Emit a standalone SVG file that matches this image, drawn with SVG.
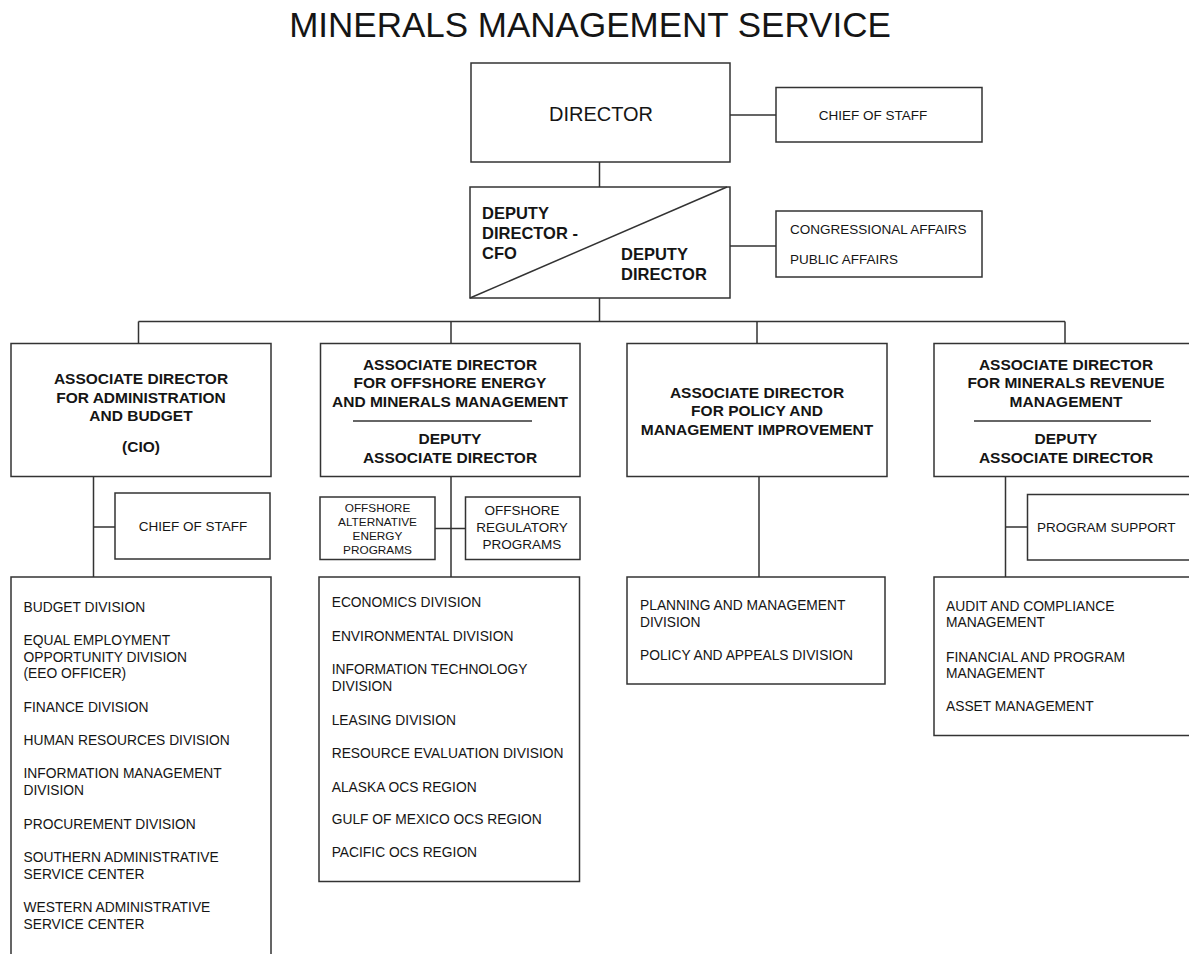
<svg xmlns="http://www.w3.org/2000/svg" width="1189" height="954" viewBox="0 0 1189 954">
<style>
.box{fill:#fff;stroke:#333;stroke-width:1.5}
.ln{stroke:#333;stroke-width:1.5;fill:none}
text{font-family:"Liberation Sans",Arial,sans-serif;fill:#151515}
.h{font-weight:bold;font-size:15.5px;text-anchor:middle}
.d{font-weight:bold;font-size:16.5px}
.r{font-size:13.5px}
.rc{font-size:13.5px;text-anchor:middle}
.l{font-size:13.8px}
.s{font-size:11.8px;text-anchor:middle}
</style>
<rect width="1189" height="954" fill="#fff"/>
<text x="590" y="37" font-size="35" text-anchor="middle">MINERALS MANAGEMENT SERVICE</text>

<g id="connectors">
<path class="ln" d="M730 115H776M599.5 162V187M730 246H776M599.5 298V321.5M138.5 321.5H1065M138.5 321.5V343.5M451 321.5V343.5M757 321.5V343.5M1065 321.5V343.5"/>
<path class="ln" d="M93.5 476.5V577M93.5 527H115"/>
<path class="ln" d="M451 476.5V577M435 528.5H465.5"/>
<path class="ln" d="M759 476.5V577"/>
<path class="ln" d="M1005.5 476.5V577M1005.5 527H1027.5"/>
</g>

<g id="director">
<rect class="box" x="471" y="63" width="259" height="99"/>
<text x="601" y="121" font-size="20" text-anchor="middle">DIRECTOR</text>
</g>
<g id="chief-of-staff">
<rect class="box" x="776" y="87.5" width="206" height="54.5"/>
<text class="rc" x="873" y="119.5">CHIEF OF STAFF</text>
</g>
<g id="deputy">
<rect class="box" x="470" y="187" width="260" height="111"/>
<line class="ln" x1="470" y1="298" x2="727" y2="187"/>
<text class="d" x="482" y="218.5">DEPUTY</text>
<text class="d" x="482" y="238.5">DIRECTOR -</text>
<text class="d" x="482" y="258.5">CFO</text>
<text class="d" x="621" y="260">DEPUTY</text>
<text class="d" x="621" y="280">DIRECTOR</text>
</g>
<g id="affairs">
<rect class="box" x="776" y="211" width="206" height="66"/>
<text class="r" x="790" y="233.5">CONGRESSIONAL AFFAIRS</text>
<text class="r" x="790" y="263.5">PUBLIC AFFAIRS</text>
</g>

<g id="ad-admin">
<rect class="box" x="11" y="343.5" width="260" height="133"/>
<text class="h" x="141" y="384">ASSOCIATE DIRECTOR</text>
<text class="h" x="141" y="402.5">FOR ADMINISTRATION</text>
<text class="h" x="141" y="421">AND BUDGET</text>
<text class="h" x="141" y="451.5">(CIO)</text>
</g>
<g id="ad-offshore">
<rect class="box" x="320.5" y="343.5" width="259.5" height="133"/>
<text class="h" x="450" y="369.5">ASSOCIATE DIRECTOR</text>
<text class="h" x="450" y="388">FOR OFFSHORE ENERGY</text>
<text class="h" x="450" y="406.5">AND MINERALS MANAGEMENT</text>
<line class="ln" x1="353" y1="421" x2="532" y2="421"/>
<text class="h" x="450" y="444">DEPUTY</text>
<text class="h" x="450" y="462.5">ASSOCIATE DIRECTOR</text>
</g>
<g id="ad-policy">
<rect class="box" x="627" y="343.5" width="260" height="133"/>
<text class="h" x="757" y="397.5">ASSOCIATE DIRECTOR</text>
<text class="h" x="757" y="416">FOR POLICY AND</text>
<text class="h" x="757" y="434.5">MANAGEMENT IMPROVEMENT</text>
</g>
<g id="ad-revenue">
<rect class="box" x="934" y="343.5" width="260" height="133"/>
<text class="h" x="1066" y="369.5">ASSOCIATE DIRECTOR</text>
<text class="h" x="1066" y="388">FOR MINERALS REVENUE</text>
<text class="h" x="1066" y="406.5">MANAGEMENT</text>
<line class="ln" x1="974" y1="421" x2="1151" y2="421"/>
<text class="h" x="1066" y="444">DEPUTY</text>
<text class="h" x="1066" y="462.5">ASSOCIATE DIRECTOR</text>
</g>

<g id="admin-chief-of-staff">
<rect class="box" x="115" y="493" width="155" height="66"/>
<text class="rc" x="193" y="531">CHIEF OF STAFF</text>
</g>
<g id="offshore-alt">
<rect class="box" x="320" y="497" width="115" height="62.5"/>
<text class="s" x="377.5" y="511.5">OFFSHORE</text>
<text class="s" x="377.5" y="525.5">ALTERNATIVE</text>
<text class="s" x="377.5" y="539.5">ENERGY</text>
<text class="s" x="377.5" y="553.5">PROGRAMS</text>
</g>
<g id="offshore-reg">
<rect class="box" x="465.5" y="497" width="114.5" height="62.5"/>
<text class="rc" x="522" y="515">OFFSHORE</text>
<text class="rc" x="522" y="532">REGULATORY</text>
<text class="rc" x="522" y="548.5">PROGRAMS</text>
</g>
<g id="program-support">
<rect class="box" x="1027.5" y="494.5" width="170" height="65.5"/>
<text class="r" x="1037" y="531.5">PROGRAM SUPPORT</text>
</g>

<g id="admin-divisions">
<rect class="box" x="11" y="577" width="260" height="400"/>
<text class="l" x="23.5" y="612.3">BUDGET DIVISION</text>
<text class="l" x="23.5" y="645">EQUAL EMPLOYMENT</text>
<text class="l" x="23.5" y="661.7">OPPORTUNITY DIVISION</text>
<text class="l" x="23.5" y="678.3">(EEO OFFICER)</text>
<text class="l" x="23.5" y="712.3">FINANCE DIVISION</text>
<text class="l" x="23.5" y="745">HUMAN RESOURCES DIVISION</text>
<text class="l" x="23.5" y="778.3">INFORMATION MANAGEMENT</text>
<text class="l" x="23.5" y="795">DIVISION</text>
<text class="l" x="23.5" y="829">PROCUREMENT DIVISION</text>
<text class="l" x="23.5" y="862.3">SOUTHERN ADMINISTRATIVE</text>
<text class="l" x="23.5" y="879">SERVICE CENTER</text>
<text class="l" x="23.5" y="912.3">WESTERN ADMINISTRATIVE</text>
<text class="l" x="23.5" y="929">SERVICE CENTER</text>
</g>
<g id="offshore-divisions">
<rect class="box" x="319" y="577" width="260.5" height="304.5"/>
<text class="l" x="331.7" y="607.3">ECONOMICS DIVISION</text>
<text class="l" x="331.7" y="640.7">ENVIRONMENTAL DIVISION</text>
<text class="l" x="331.7" y="674">INFORMATION TECHNOLOGY</text>
<text class="l" x="331.7" y="690.7">DIVISION</text>
<text class="l" x="331.7" y="725">LEASING DIVISION</text>
<text class="l" x="331.7" y="757.7">RESOURCE EVALUATION DIVISION</text>
<text class="l" x="331.7" y="791.7">ALASKA OCS REGION</text>
<text class="l" x="331.7" y="824.3">GULF OF MEXICO OCS REGION</text>
<text class="l" x="331.7" y="857.3">PACIFIC OCS REGION</text>
</g>
<g id="policy-divisions">
<rect class="box" x="627" y="577" width="258" height="107"/>
<text class="l" x="640" y="610">PLANNING AND MANAGEMENT</text>
<text class="l" x="640" y="626.5">DIVISION</text>
<text class="l" x="640" y="660">POLICY AND APPEALS DIVISION</text>
</g>
<g id="revenue-divisions">
<rect class="box" x="934" y="577" width="260" height="158.5"/>
<text class="l" x="946" y="610.7">AUDIT AND COMPLIANCE</text>
<text class="l" x="946" y="627.3">MANAGEMENT</text>
<text class="l" x="946" y="661.7">FINANCIAL AND PROGRAM</text>
<text class="l" x="946" y="678.3">MANAGEMENT</text>
<text class="l" x="946" y="710.7">ASSET MANAGEMENT</text>
</g>
</svg>
